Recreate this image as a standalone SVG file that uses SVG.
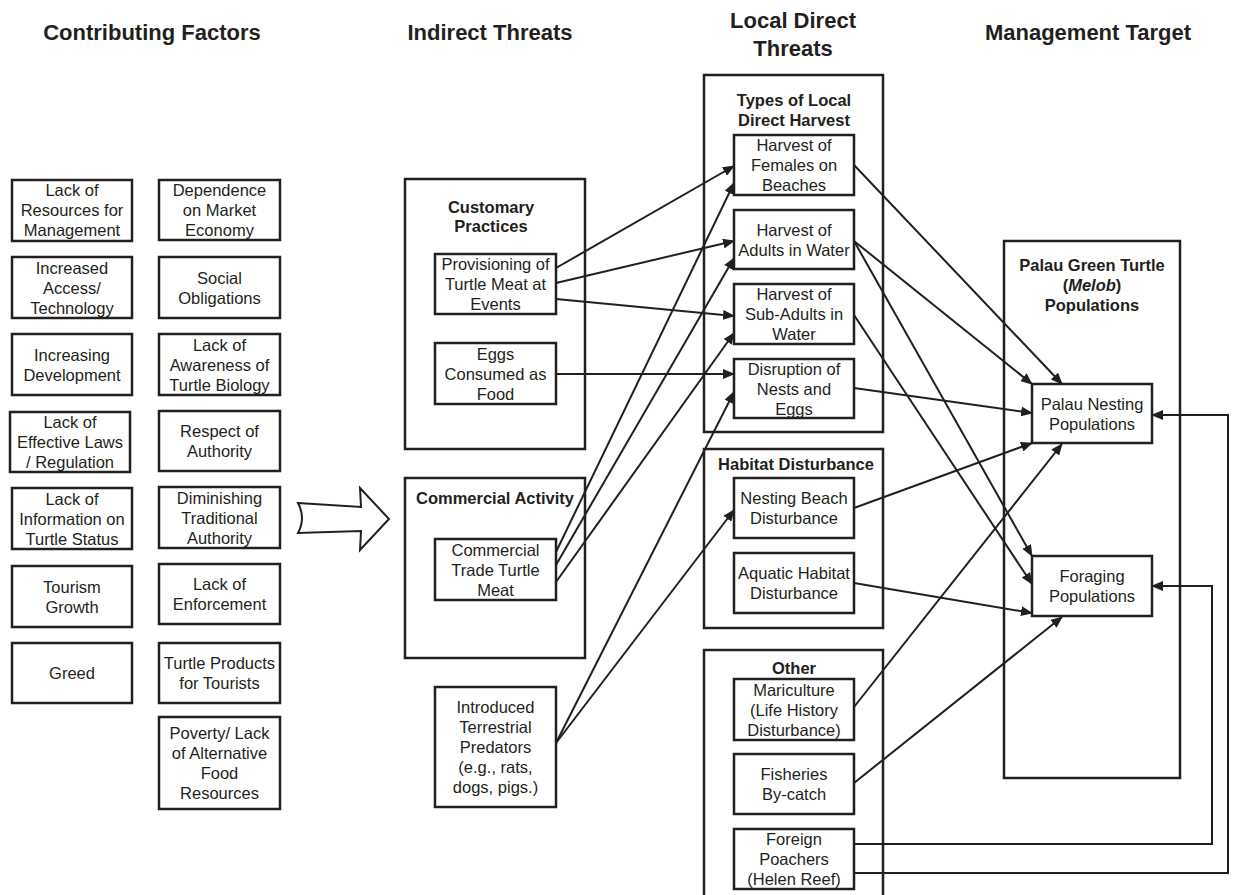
<svg xmlns="http://www.w3.org/2000/svg" width="1233" height="895" viewBox="0 0 1233 895">
<style>
.bx{fill:#fff;stroke:#231f20;stroke-width:2.5}
.grp{fill:none;stroke:#231f20;stroke-width:2.5}
.t{font-family:"Liberation Sans",Arial,sans-serif;font-size:16.5px;fill:#231f20;text-anchor:middle}
.b{font-family:"Liberation Sans",Arial,sans-serif;font-size:16.5px;font-weight:bold;fill:#231f20;text-anchor:middle}
.h{font-family:"Liberation Sans",Arial,sans-serif;font-size:22px;font-weight:bold;fill:#231f20;text-anchor:middle}
.c{fill:none;stroke:#231f20;stroke-width:2}
</style>
<defs>
<marker id="ah" markerUnits="userSpaceOnUse" markerWidth="12" markerHeight="10" refX="11" refY="5" orient="auto">
<path d="M0,0 L12,5 L0,10 Z" fill="#231f20"/>
</marker>
</defs>
<rect width="1233" height="895" fill="#fff"/>

<g id="headers">
<text class="h" x="152" y="40">Contributing Factors</text>
<text class="h" x="490" y="40">Indirect Threats</text>
<text class="h" x="793" y="28">Local Direct</text>
<text class="h" x="793" y="56">Threats</text>
<text class="h" x="1088" y="40">Management Target</text>
</g>

<g id="groups">
<rect class="grp" x="405" y="179" width="180" height="270"/>
<text class="b" x="491" y="213">Customary</text>
<text class="b" x="491" y="232">Practices</text>
<rect class="grp" x="405" y="478" width="180" height="180"/>
<text class="b" x="495" y="504">Commercial Activity</text>
<rect class="grp" x="704" y="75" width="179" height="357"/>
<text class="b" x="794" y="106">Types of Local</text>
<text class="b" x="794" y="126">Direct Harvest</text>
<rect class="grp" x="704" y="449" width="179" height="179"/>
<text class="b" x="796" y="470">Habitat Disturbance</text>
<rect class="grp" x="704" y="650" width="179" height="260"/>
<text class="b" x="794" y="674">Other</text>
<rect class="grp" x="1004" y="241" width="176" height="537"/>
<text class="b" x="1092" y="271">Palau Green Turtle</text>
<text class="b" x="1092" y="291">(<tspan font-style="italic">Melob</tspan>)</text>
<text class="b" x="1092" y="311">Populations</text>
</g>

<g id="bigArrow">
<path d="M298,503 L361,507 L360,488 L389,519 L360,550 L361,531 L298,533 Q306,518 298,503 Z" fill="#fff" stroke="#231f20" stroke-width="2"/>
</g>

<g id="connectors">
<line class="c" x1="556" y1="268" x2="734" y2="166" marker-end="url(#ah)"/>
<line class="c" x1="556" y1="283" x2="734" y2="241" marker-end="url(#ah)"/>
<line class="c" x1="556" y1="299" x2="734" y2="316" marker-end="url(#ah)"/>
<line class="c" x1="556" y1="374" x2="734" y2="374" marker-end="url(#ah)"/>
<line class="c" x1="556" y1="552" x2="734" y2="183" marker-end="url(#ah)"/>
<line class="c" x1="556" y1="565" x2="734" y2="258" marker-end="url(#ah)"/>
<line class="c" x1="556" y1="582" x2="734" y2="333" marker-end="url(#ah)"/>
<line class="c" x1="556" y1="743" x2="734" y2="392" marker-end="url(#ah)"/>
<line class="c" x1="556" y1="743" x2="734" y2="510" marker-end="url(#ah)"/>
<line class="c" x1="854" y1="165" x2="1062" y2="384" marker-end="url(#ah)"/>
<line class="c" x1="854" y1="241" x2="1032" y2="384" marker-end="url(#ah)"/>
<line class="c" x1="854" y1="241" x2="1032" y2="556" marker-end="url(#ah)"/>
<line class="c" x1="854" y1="315" x2="1032" y2="584" marker-end="url(#ah)"/>
<line class="c" x1="854" y1="388" x2="1032" y2="413" marker-end="url(#ah)"/>
<line class="c" x1="854" y1="508" x2="1032" y2="443" marker-end="url(#ah)"/>
<line class="c" x1="854" y1="583" x2="1032" y2="613" marker-end="url(#ah)"/>
<line class="c" x1="854" y1="707" x2="1062" y2="444" marker-end="url(#ah)"/>
<line class="c" x1="854" y1="783" x2="1062" y2="617" marker-end="url(#ah)"/>
<path class="c" d="M854,844 H1212 V586 H1152" marker-end="url(#ah)"/>
<path class="c" d="M854,873 H1228 V415 H1152" marker-end="url(#ah)"/>
</g>

<g id="cf1"><rect class="bx" x="12" y="180" width="120" height="61"/><text class="t" x="72" y="196">Lack of</text><text class="t" x="72" y="216">Resources for</text><text class="t" x="72" y="236">Management</text></g>
<g id="cf2"><rect class="bx" x="12" y="257" width="120" height="61"/><text class="t" x="72" y="274">Increased</text><text class="t" x="72" y="294">Access/</text><text class="t" x="72" y="314">Technology</text></g>
<g id="cf3"><rect class="bx" x="12" y="334" width="120" height="61"/><text class="t" x="72" y="360.5">Increasing</text><text class="t" x="72" y="380.5">Development</text></g>
<g id="cf4"><rect class="bx" x="10" y="412" width="120" height="60"/><text class="t" x="70" y="428">Lack of</text><text class="t" x="70" y="448">Effective Laws</text><text class="t" x="70" y="468">/ Regulation</text></g>
<g id="cf5"><rect class="bx" x="12" y="488" width="120" height="61"/><text class="t" x="72" y="504.5">Lack of</text><text class="t" x="72" y="524.5">Information on</text><text class="t" x="72" y="544.5">Turtle Status</text></g>
<g id="cf6"><rect class="bx" x="12" y="566" width="120" height="61"/><text class="t" x="72" y="592.5">Tourism</text><text class="t" x="72" y="612.5">Growth</text></g>
<g id="cf7"><rect class="bx" x="12" y="643" width="120" height="60"/><text class="t" x="72" y="679">Greed</text></g>

<g id="cf8"><rect class="bx" x="159" y="180" width="121" height="60"/><text class="t" x="219.5" y="196">Dependence</text><text class="t" x="219.5" y="216">on Market</text><text class="t" x="219.5" y="236">Economy</text></g>
<g id="cf9"><rect class="bx" x="159" y="257" width="121" height="61"/><text class="t" x="219.5" y="283.5">Social</text><text class="t" x="219.5" y="303.5">Obligations</text></g>
<g id="cf10"><rect class="bx" x="159" y="334" width="121" height="61"/><text class="t" x="219.5" y="350.5">Lack of</text><text class="t" x="219.5" y="370.5">Awareness of</text><text class="t" x="219.5" y="390.5">Turtle Biology</text></g>
<g id="cf11"><rect class="bx" x="159" y="411" width="121" height="60"/><text class="t" x="219.5" y="437">Respect of</text><text class="t" x="219.5" y="457">Authority</text></g>
<g id="cf12"><rect class="bx" x="159" y="487" width="121" height="61"/><text class="t" x="219.5" y="503.5">Diminishing</text><text class="t" x="219.5" y="523.5">Traditional</text><text class="t" x="219.5" y="543.5">Authority</text></g>
<g id="cf13"><rect class="bx" x="159" y="564" width="121" height="60"/><text class="t" x="219.5" y="590">Lack of</text><text class="t" x="219.5" y="610">Enforcement</text></g>
<g id="cf14"><rect class="bx" x="159" y="643" width="121" height="60"/><text class="t" x="219.5" y="669">Turtle Products</text><text class="t" x="219.5" y="689">for Tourists</text></g>
<g id="cf15"><rect class="bx" x="159" y="717" width="121" height="92"/><text class="t" x="219.5" y="739">Poverty/ Lack</text><text class="t" x="219.5" y="759">of Alternative</text><text class="t" x="219.5" y="779">Food</text><text class="t" x="219.5" y="799">Resources</text></g>

<g id="it1"><rect class="bx" x="435" y="254" width="121" height="60"/><text class="t" x="495.5" y="270">Provisioning of</text><text class="t" x="495.5" y="290">Turtle Meat at</text><text class="t" x="495.5" y="310">Events</text></g>
<g id="it2"><rect class="bx" x="435" y="343" width="121" height="61"/><text class="t" x="495.5" y="359.5">Eggs</text><text class="t" x="495.5" y="379.5">Consumed as</text><text class="t" x="495.5" y="399.5">Food</text></g>
<g id="it3"><rect class="bx" x="435" y="539" width="121" height="61"/><text class="t" x="495.5" y="555.5">Commercial</text><text class="t" x="495.5" y="575.5">Trade Turtle</text><text class="t" x="495.5" y="595.5">Meat</text></g>
<g id="it4"><rect class="bx" x="435" y="687" width="121" height="120"/><text class="t" x="495.5" y="713">Introduced</text><text class="t" x="495.5" y="733">Terrestrial</text><text class="t" x="495.5" y="753">Predators</text><text class="t" x="495.5" y="773">(e.g., rats,</text><text class="t" x="495.5" y="793">dogs, pigs.)</text></g>

<g id="dt1"><rect class="bx" x="734" y="135" width="120" height="60"/><text class="t" x="794" y="151">Harvest of</text><text class="t" x="794" y="171">Females on</text><text class="t" x="794" y="191">Beaches</text></g>
<g id="dt2"><rect class="bx" x="734" y="210" width="120" height="59"/><text class="t" x="794" y="235.5">Harvest of</text><text class="t" x="794" y="255.5">Adults in Water</text></g>
<g id="dt3"><rect class="bx" x="734" y="284" width="120" height="60"/><text class="t" x="794" y="300">Harvest of</text><text class="t" x="794" y="320">Sub-Adults in</text><text class="t" x="794" y="340">Water</text></g>
<g id="dt4"><rect class="bx" x="734" y="359" width="120" height="59"/><text class="t" x="794" y="374.5">Disruption of</text><text class="t" x="794" y="394.5">Nests and</text><text class="t" x="794" y="414.5">Eggs</text></g>
<g id="dt5"><rect class="bx" x="734" y="478" width="120" height="60"/><text class="t" x="794" y="504">Nesting Beach</text><text class="t" x="794" y="524">Disturbance</text></g>
<g id="dt6"><rect class="bx" x="734" y="553" width="120" height="60"/><text class="t" x="794" y="579">Aquatic Habitat</text><text class="t" x="794" y="599">Disturbance</text></g>
<g id="dt7"><rect class="bx" x="734" y="679" width="120" height="61"/><text class="t" x="794" y="695.5">Mariculture</text><text class="t" x="794" y="715.5">(Life History</text><text class="t" x="794" y="735.5">Disturbance)</text></g>
<g id="dt8"><rect class="bx" x="734" y="754" width="120" height="60"/><text class="t" x="794" y="780">Fisheries</text><text class="t" x="794" y="800">By-catch</text></g>
<g id="dt9"><rect class="bx" x="734" y="829" width="120" height="60"/><text class="t" x="794" y="845">Foreign</text><text class="t" x="794" y="865">Poachers</text><text class="t" x="794" y="885">(Helen Reef)</text></g>

<g id="mt1"><rect class="bx" x="1032" y="384" width="120" height="59"/><text class="t" x="1092" y="409.5">Palau Nesting</text><text class="t" x="1092" y="429.5">Populations</text></g>
<g id="mt2"><rect class="bx" x="1032" y="556" width="120" height="60"/><text class="t" x="1092" y="582">Foraging</text><text class="t" x="1092" y="602">Populations</text></g>
</svg>
